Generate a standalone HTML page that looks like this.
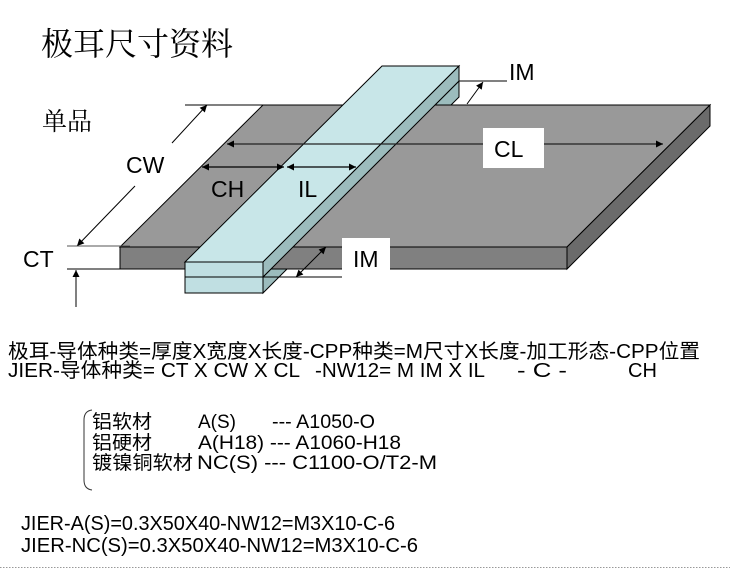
<!DOCTYPE html>
<html><head><meta charset="utf-8">
<style>
html,body{margin:0;padding:0;background:#fff;}
svg{display:block;}
.lb{font-family:"Liberation Sans",Arial,sans-serif;font-size:23px;fill:#000;}
.t{font-family:"Liberation Sans","Noto Sans CJK SC",sans-serif;font-size:20px;fill:#000;}
.m{font-family:"Liberation Sans","Noto Sans CJK SC",sans-serif;font-size:19px;fill:#000;}
.s{font-family:"Liberation Serif","Noto Serif CJK SC",serif;fill:#000;}
</style></head>
<body>
<svg width="730" height="569" viewBox="0 0 730 569" xmlns="http://www.w3.org/2000/svg">
<defs>
<marker id="ah" viewBox="0 0 10 10" refX="10" refY="5" markerUnits="userSpaceOnUse" markerWidth="9" markerHeight="7" orient="auto-start-reverse">
<path d="M0,0 L10,5 L0,10 z" fill="#000"/>
</marker>
</defs>

<!-- title -->
<text class="s" x="41" y="55" font-size="32" textLength="192" lengthAdjust="spacingAndGlyphs">极耳尺寸资料</text>
<text class="s" x="42" y="130" font-size="25" textLength="50" lengthAdjust="spacingAndGlyphs">单品</text>

<!-- lower layer side face of tab (under plate) -->
<polygon points="263,277 459,81 459,97 263,293" fill="#9cbcbd" stroke="#000" stroke-width="1"/>

<!-- plate -->
<polygon points="120,247 263,105 710,105 567,247" fill="#999999" stroke="#000" stroke-width="1"/>
<polygon points="120,247 567,247 567,269 120,269" fill="#808080" stroke="#000" stroke-width="1"/>
<polygon points="567,247 710,105 710,126 567,269" fill="#6b6b6b" stroke="#000" stroke-width="1"/>

<!-- tab upper -->
<polygon points="185,262 382,66 459,66 263,262" fill="#c8e6e8" stroke="#000" stroke-width="1"/>
<polygon points="263,262 459,66 459,81 263,277" fill="#9cbcbd" stroke="#000" stroke-width="1"/>
<rect x="185" y="262" width="78" height="15" fill="#c0dfe2" stroke="#000" stroke-width="1"/>
<rect x="185" y="277" width="78" height="16" fill="#c0dfe2" stroke="#000" stroke-width="1"/>

<!-- CW -->
<line x1="185" y1="105" x2="263" y2="105" stroke="#000" stroke-width="1"/>
<line x1="172" y1="143" x2="207" y2="105" stroke="#000" stroke-width="1" marker-end="url(#ah)"/>
<line x1="135" y1="186" x2="77" y2="246" stroke="#000" stroke-width="1" marker-end="url(#ah)"/>
<text class="lb" x="126" y="173">CW</text>

<!-- CT -->
<line x1="67" y1="246" x2="130" y2="246" stroke="#555" stroke-width="1"/>
<line x1="67" y1="269" x2="120" y2="269" stroke="#000" stroke-width="1"/>
<line x1="76" y1="307" x2="76" y2="270" stroke="#000" stroke-width="1" marker-end="url(#ah)"/>
<text class="lb" x="23" y="267">CT</text>

<!-- CL -->
<line x1="227" y1="144" x2="663" y2="144" stroke="#222" stroke-width="1.3" marker-start="url(#ah)" marker-end="url(#ah)"/>
<rect x="483" y="128" width="61" height="40" fill="#fff"/>
<text class="lb" x="494" y="157">CL</text>

<!-- CH / IL -->
<line x1="202" y1="167" x2="284" y2="167" stroke="#000" stroke-width="1.2" marker-start="url(#ah)" marker-end="url(#ah)"/>
<line x1="287" y1="167" x2="356" y2="167" stroke="#000" stroke-width="1.2" marker-start="url(#ah)" marker-end="url(#ah)"/>
<text class="lb" x="211" y="197">CH</text>
<text class="lb" x="298" y="197">IL</text>

<!-- IM top -->
<line x1="459" y1="81" x2="507" y2="81" stroke="#000" stroke-width="1"/>
<line x1="467" y1="104" x2="483" y2="82" stroke="#000" stroke-width="1" marker-end="url(#ah)"/>
<text class="lb" x="509" y="80">IM</text>

<!-- IM bottom -->
<line x1="263" y1="277" x2="342" y2="277" stroke="#000" stroke-width="1"/>
<line x1="296" y1="277" x2="326" y2="247" stroke="#000" stroke-width="1" marker-start="url(#ah)" marker-end="url(#ah)"/>
<rect x="342" y="238" width="48" height="32" fill="#fff"/>
<text class="lb" x="353" y="267">IM</text>

<!-- formula lines -->
<text class="t" x="8" y="358" textLength="692" lengthAdjust="spacingAndGlyphs">极耳-导体种类=厚度X宽度X长度-CPP种类=M尺寸X长度-加工形态-CPP位置</text>
<text class="t" x="8" y="377" textLength="292" lengthAdjust="spacingAndGlyphs">JIER-导体种类= CT X CW X CL</text>
<text class="t" x="315" y="377" textLength="170" lengthAdjust="spacingAndGlyphs">-NW12= M IM  X IL</text>
<text class="t" x="517" y="377" textLength="50" lengthAdjust="spacingAndGlyphs">- C -</text>
<text class="t" x="628" y="377">CH</text>

<!-- brace -->
<path d="M92,410 Q84,411 84,420 L84,480 Q84,489 92,490" fill="none" stroke="#333" stroke-width="1"/>

<!-- materials -->
<text class="m" x="92" y="428" textLength="60" lengthAdjust="spacingAndGlyphs">铝软材</text>
<text class="m" x="198" y="428">A(S)</text>
<text class="m" x="272" y="428" textLength="103" lengthAdjust="spacingAndGlyphs">--- A1050-O</text>
<text class="m" x="92" y="449" textLength="60" lengthAdjust="spacingAndGlyphs">铝硬材</text>
<text class="m" x="198" y="449" textLength="203" lengthAdjust="spacingAndGlyphs">A(H18) --- A1060-H18</text>
<text class="m" x="92" y="469" textLength="101" lengthAdjust="spacingAndGlyphs">镀镍铜软材</text>
<text class="m" x="197" y="469" textLength="240" lengthAdjust="spacingAndGlyphs">NC(S)  --- C1100-O/T2-M</text>

<!-- examples -->
<text class="t" x="21" y="530" textLength="374" lengthAdjust="spacingAndGlyphs">JIER-A(S)=0.3X50X40-NW12=M3X10-C-6</text>
<text class="t" x="21" y="552" textLength="397" lengthAdjust="spacingAndGlyphs">JIER-NC(S)=0.3X50X40-NW12=M3X10-C-6</text>

<line x1="0" y1="567.5" x2="730" y2="567.5" stroke="#999" stroke-width="1" stroke-dasharray="1.5,1.5"/>
</svg>
</body></html>
